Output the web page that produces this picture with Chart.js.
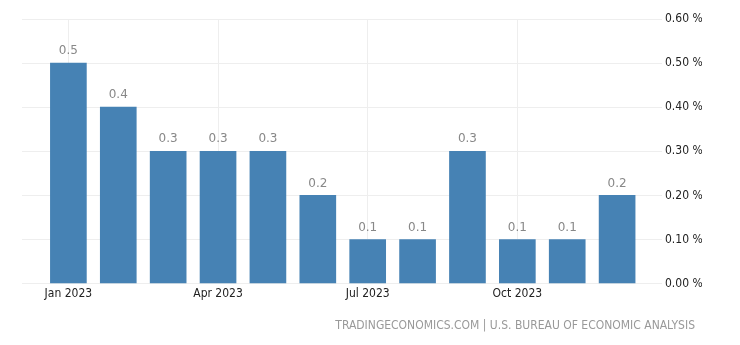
<!DOCTYPE html>
<html>
<head>
<meta charset="utf-8">
<script src="https://cdn.jsdelivr.net/npm/chart.js@4.4.0/dist/chart.umd.min.js"></script>
<style>
  html, body { margin: 0; padding: 0; background: #fff; }
  #wrap { width: 740px; height: 345px; }
</style>
</head>
<body>
<div id="wrap"><canvas id="chart" width="740" height="345"></canvas></div>
<script>
const months = ['Jan 2023', 'Feb 2023', 'Mar 2023', 'Apr 2023', 'May 2023', 'Jun 2023',
                'Jul 2023', 'Aug 2023', 'Sep 2023', 'Oct 2023', 'Nov 2023', 'Dec 2023'];
const values = [0.5, 0.4, 0.3, 0.3, 0.3, 0.2, 0.1, 0.1, 0.3, 0.1, 0.1, 0.2];
const tickMonths = [0, 3, 6, 9];
const yTicks = [0, 0.1, 0.2, 0.3, 0.4, 0.5, 0.6];
const source = 'TRADINGECONOMICS.COM | U.S. BUREAU OF ECONOMIC ANALYSIS';

// value labels above each bar + source line at the bottom right
const barLabels = {
    id: 'barLabels',
    afterDatasetsDraw(chart) {
        const ctx = chart.ctx;
        const meta = chart.getDatasetMeta(0);
        ctx.save();
        ctx.font = '12px "DejaVu Sans"';
        ctx.fillStyle = '#888';
        ctx.textAlign = 'center';
        ctx.textBaseline = 'middle';
        meta.data.forEach((bar, i) => {
            ctx.fillText(values[i].toFixed(1), bar.x, bar.y - 12);
        });
        ctx.font = '12px "DejaVu Sans Condensed", "DejaVu Sans"';
        ctx.fillStyle = '#999';
        ctx.textAlign = 'right';
        ctx.fillText(source, 695, 326);
        ctx.restore();
    }
};

const ctx = document.getElementById('chart').getContext('2d');
new Chart(ctx, {
    type: 'bar',
    data: {
        datasets: [{
            data: values.map((v, i) => ({x: i, y: v})),
            backgroundColor: '#4682b4',
            barThickness: 36
        }]
    },
    options: {
        responsive: false,
        animation: false,
        layout: {padding: {left: 22, top: 19, right: 38, bottom: 41}},
        plugins: {
            legend: {display: false},
            tooltip: {enabled: false}
        },
        scales: {
            x: {
                type: 'linear',
                offset: false,
                min: -0.93,
                max: 11.9,
                afterBuildTicks(scale) {
                    scale.ticks = tickMonths.map(v => ({value: v}));
                },
                ticks: {
                    autoSkip: false,
                    maxRotation: 0,
                    color: '#222',
                    font: {family: 'DejaVu Sans Condensed, DejaVu Sans', size: 12},
                    padding: 3,
                    callback: v => months[v]
                },
                grid: {color: '#eeeeee', drawTicks: false, offset: false},
                border: {display: false}
            },
            y: {
                position: 'right',
                min: 0,
                max: 0.6,
                afterBuildTicks(scale) {
                    scale.ticks = yTicks.map(v => ({value: v}));
                },
                afterFit(scale) { scale.width = 40; },
                ticks: {
                    color: '#222',
                    font: {family: 'DejaVu Sans Condensed, DejaVu Sans', size: 12},
                    padding: 3,
                    callback: v => v.toFixed(2) + ' %'
                },
                grid: {color: '#eeeeee', drawTicks: false},
                border: {display: false}
            }
        }
    },
    plugins: [barLabels]
});
</script>
</body>
</html>
